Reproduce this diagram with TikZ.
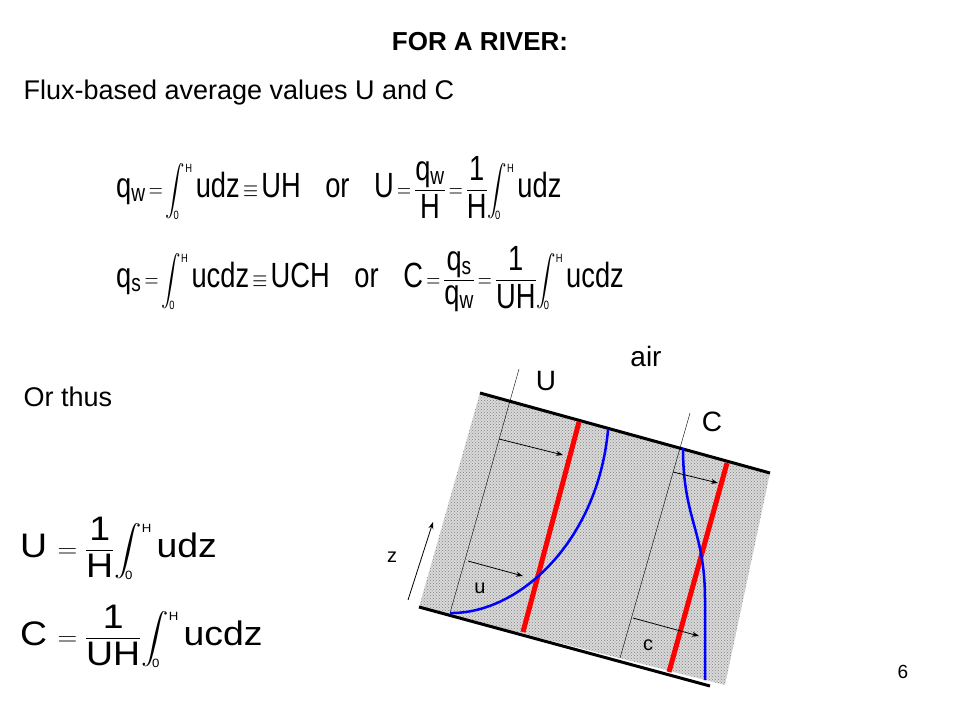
\documentclass[tikz,border=0pt]{standalone}
\usepackage{amsmath}
\usepackage{fontspec}
\setmainfont{Liberation Sans}
\usetikzlibrary{patterns,arrows.meta}
\newcommand{\sub}[1]{\textsubscript{#1}}
\newcommand{\Int}{\displaystyle\!\int_{\!\mbox{\large 0}}^{\mbox{\large H}}\,}
\newcommand{\Fr}[2]{\dfrac{\mbox{#1}}{\mbox{#2}}}
\newcommand{\Eq}{\,{=}\,}
\begin{document}
\begin{tikzpicture}
[x=1pt,y=-1pt,
  eqdecorate/.style={anchor=base west,inner sep=0pt,font=\fontsize{35}{40}\selectfont,xscale=0.78,transform shape},%
  eqsdecorate/.style={anchor=base west,inner sep=0pt,font=\fontsize{34}{40}\selectfont,xscale=1.1,transform shape},%
  thindecorate/.style={thin},%
  reddecorate/.style={line width=5pt,red},%
  bluedecorate/.style={line width=2.5pt,blue},%
  arrowdecorate/.style={-{Stealth[length=7pt,width=5pt]},line width=0.8pt}]
\useasboundingbox (0,0) rectangle (960,720);
% texts
\node (title) at (480,42) {\fontsize{26}{30}\selectfont\bfseries FOR A RIVER:};
\node (flux) [anchor=west] at (20,93) {\fontsize{27}{30}\selectfont Flux-based average values U and C};
\node (thus) [anchor=west] at (20,397) {\fontsize{27}{30}\selectfont Or thus};
\node (page) at (903,672) {\fontsize{19}{22}\selectfont 6};
% equations
\node (eqa) [eqdecorate] at (116,197) {q\sub{w}$\Eq\Int$udz$\,\equiv\,$UH\hspace{0.9em}or\hspace{0.9em}U$\Eq\Fr{q\sub{w}}{H}\Eq\Fr{1}{H}\Int$udz};
\node (eqb) [eqdecorate] at (116,287) {q\sub{s}$\Eq\Int$ucdz$\,\equiv\,$UCH\hspace{0.9em}or\hspace{0.9em}C$\Eq\Fr{q\sub{s}}{q\sub{w}}\Eq\Fr{1}{UH}\Int$ucdz};
\node (eqc) [eqsdecorate] at (20,557) {U $=\Fr{1}{H}\Int$udz};
\node (eqd) [eqsdecorate] at (20,645) {C $=\Fr{1}{UH}\Int$ucdz};
% river
\fill [gray!30] (480,393) -- (770,473) -- (725,685) -- (419,607) -- cycle;
\fill [pattern=crosshatch dots,pattern color=gray] (480,393) -- (770,473) -- (725,685) -- (419,607) -- cycle;
\coordinate (tl) at (480,393);
\coordinate (tr) at (770,473);
\coordinate (bl) at (419,607);
\coordinate (br) at (710,686);
\draw [line width=3pt] (tl) -- (tr);
\draw [line width=3pt] (bl) -- (br);
\coordinate (ua) at (519,369);
\coordinate (ub) at (450,613);
\coordinate (ca) at (690,413);
\coordinate (cb) at (620,658);
\draw [thindecorate] (ua) -- (ub);
\draw [thindecorate] (ca) -- (cb);
\draw [reddecorate] (579,422) -- (523,632);
\draw [reddecorate] (727,463) -- (669,672);
\draw [bluedecorate] (ub) .. controls (520,614) and (598,540) .. (608,430);
\draw [bluedecorate] (683,448) .. controls (683,520) and (705,530) .. (705,600) -- (705,680);
\coordinate (a1) at (499,439); \coordinate (a1e) at (563,455);
\coordinate (a2) at (468,561); \coordinate (a2e) at (523,576);
\coordinate (a3) at (673,472); \coordinate (a3e) at (718,483);
\coordinate (a4) at (633,618); \coordinate (a4e) at (699,636);
\coordinate (z1) at (408,600); \coordinate (z2) at (433,522);
\draw [arrowdecorate] (a1) -- (a1e);
\draw [arrowdecorate] (a2) -- (a2e);
\draw [arrowdecorate] (a3) -- (a3e);
\draw [arrowdecorate] (a4) -- (a4e);
\draw [arrowdecorate] (z1) -- (z2);
\node (z) at (392,557) {\fontsize{20}{22}\selectfont z};
\node (u) at (480,588) {\fontsize{20}{22}\selectfont u};
\node (c) at (648,645) {\fontsize{20}{22}\selectfont c};
\node (U) at (546,381) {\fontsize{28}{32}\selectfont U};
\node (C) at (712,422) {\fontsize{28}{32}\selectfont C};
\node (air) at (646,356) {\fontsize{28}{32}\selectfont air};
\end{tikzpicture}
\end{document}
